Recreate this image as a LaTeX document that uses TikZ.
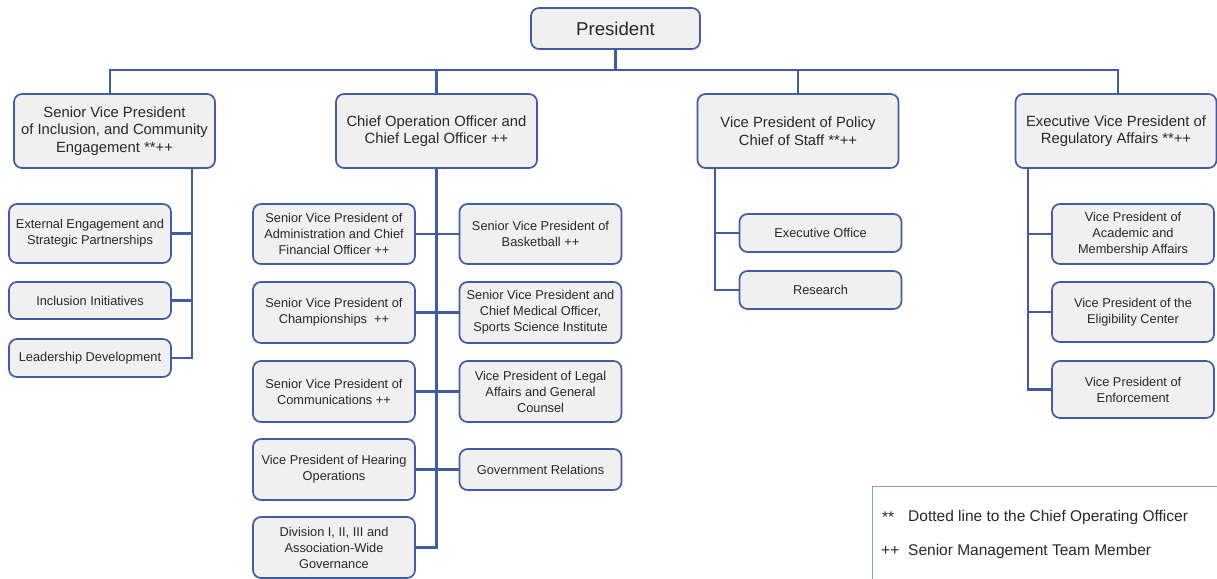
\documentclass[tikz,border=0pt]{standalone}
\usepackage{fontspec}
\setmainfont{Liberation Sans}
\definecolor{bc}{RGB}{66,92,164}
\definecolor{bf}{RGB}{240,240,241}
\definecolor{tc}{RGB}{40,40,40}
\definecolor{lc}{RGB}{140,155,200}
\begin{document}
\begin{tikzpicture}[x=1pt,y=-1pt,
  box/.style={draw=bc, fill=bf, rounded corners=8pt, line width=1.7pt, align=center, inner sep=0pt, text=tc},
  topbox/.style={box, minimum width=201pt, minimum height=74pt, font=\fontsize{14.8}{17.5}\selectfont},
  subbox/.style={box, minimum width=162pt, font=\fontsize{12.8}{16}\selectfont},
  conn/.style={draw=bc, line width=2.6pt},
  legtext/.style={anchor=west, inner sep=0pt, text=tc, font=\fontsize{15.5}{17}\selectfont}]
\useasboundingbox (0,0) rectangle (1217,578);
% top
\node[box, minimum width=169pt, minimum height=41pt, font=\fontsize{18.6}{20}\selectfont] (pres) at (615.5,28.5) {President};
\node[topbox] (svpi) at (114.5,131) {Senior Vice President\\of Inclusion, and Community\\Engagement **++};
\node[topbox] (coo) at (436.5,131) {Chief Operation Officer and\\Chief Legal Officer ++};
\node[topbox] (vpp) at (798,131) {Vice President of Policy\\Chief of Staff **++};
\node[topbox] (evp) at (1116,131) {Executive Vice President of\\Regulatory Affairs **++};
% left column
\node[subbox, minimum height=59pt] (ext) at (90,233.5) {External Engagement and\\Strategic Partnerships};
\node[subbox, minimum height=37pt] (inc) at (90,300.5) {Inclusion Initiatives};
\node[subbox, minimum height=38pt] (ld) at (90,358) {Leadership Development};
% COO column
\node[subbox, minimum height=60pt] (admin) at (334,234) {Senior Vice President of\\Administration and Chief\\Financial Officer ++};
\node[subbox, minimum height=61pt] (champ) at (334,312.5) {Senior Vice President of\\Championships\ \ ++};
\node[subbox, minimum height=61pt] (comm) at (334,391.5) {Senior Vice President of\\Communications ++};
\node[subbox, minimum height=61pt] (hear) at (334,469.5) {Vice President of Hearing\\Operations};
\node[subbox, minimum height=61pt] (div) at (334,547.5) {Division I, II, III and\\Association-Wide\\Governance};
\node[subbox, minimum height=60pt] (bask) at (540.5,234) {Senior Vice President of\\Basketball ++};
\node[subbox, minimum height=61pt] (cmo) at (540.5,312.5) {Senior Vice President and\\Chief Medical Officer,\\Sports Science Institute};
\node[subbox, minimum height=61pt] (legal) at (540.5,391.5) {Vice President of Legal\\Affairs and General\\Counsel};
\node[subbox, minimum height=41pt] (gov) at (540.5,469.5) {Government Relations};
% VP policy column
\node[subbox, minimum height=38pt] (eo) at (820.5,233) {Executive Office};
\node[subbox, minimum height=38pt] (res) at (820.5,290) {Research};
% EVP column
\node[subbox, minimum height=60pt] (acad) at (1133,234) {Vice President of\\Academic and\\Membership Affairs};
\node[subbox, minimum height=60pt] (elig) at (1133,312) {Vice President of the\\Eligibility Center};
\node[subbox, minimum height=57pt] (enf) at (1133,389.5) {Vice President of\\Enforcement};
% connectors: top
\coordinate (bus) at (615.5,70);
\draw[conn] (pres.south) -- (bus);
\draw[conn] (svpi.north -| 110,0) |- (bus);
\draw[conn] (coo.north) |- (bus);
\draw[conn] (vpp.north) |- (bus);
\draw[conn] (evp.north -| 1118,0) |- (bus);
% left column
\coordinate (lx) at (192,0);
\draw[conn] (svpi.south -| lx) -- (ld.east -| lx) -- (ld.east);
\draw[conn] (ext.east) -- (ext.east -| lx);
\draw[conn] (inc.east) -- (inc.east -| lx);
% COO column
\draw[conn] (coo.south) -- (coo.south |- div.east) -- (div.east);
\draw[conn] (admin.east) -- (bask.west);
\draw[conn] (champ.east) -- (cmo.west);
\draw[conn] (comm.east) -- (legal.west);
\draw[conn] (hear.east) -- (gov.west);
% VP policy column
\coordinate (px) at (715,0);
\draw[conn] (vpp.south -| px) |- (res.west);
\draw[conn] (eo.west) -- (eo.west -| px);
% EVP column
\coordinate (ex) at (1028,0);
\draw[conn] (evp.south -| ex) |- (enf.west);
\draw[conn] (acad.west) -- (acad.west -| ex);
\draw[conn] (elig.west) -- (elig.west -| ex);
% legend
\node[draw=lc, line width=0.8pt, fill=white, anchor=north west, minimum width=350pt, minimum height=96pt, inner sep=0pt] (leg) at (872,486) {};
\node[legtext] (l1a) at (882,517) {**};
\node[legtext] (l1b) at (908,517) {Dotted line to the Chief Operating Officer};
\node[legtext] (l2a) at (881,551) {++};
\node[legtext] (l2b) at (908,551) {Senior Management Team Member};
\end{tikzpicture}
\end{document}
